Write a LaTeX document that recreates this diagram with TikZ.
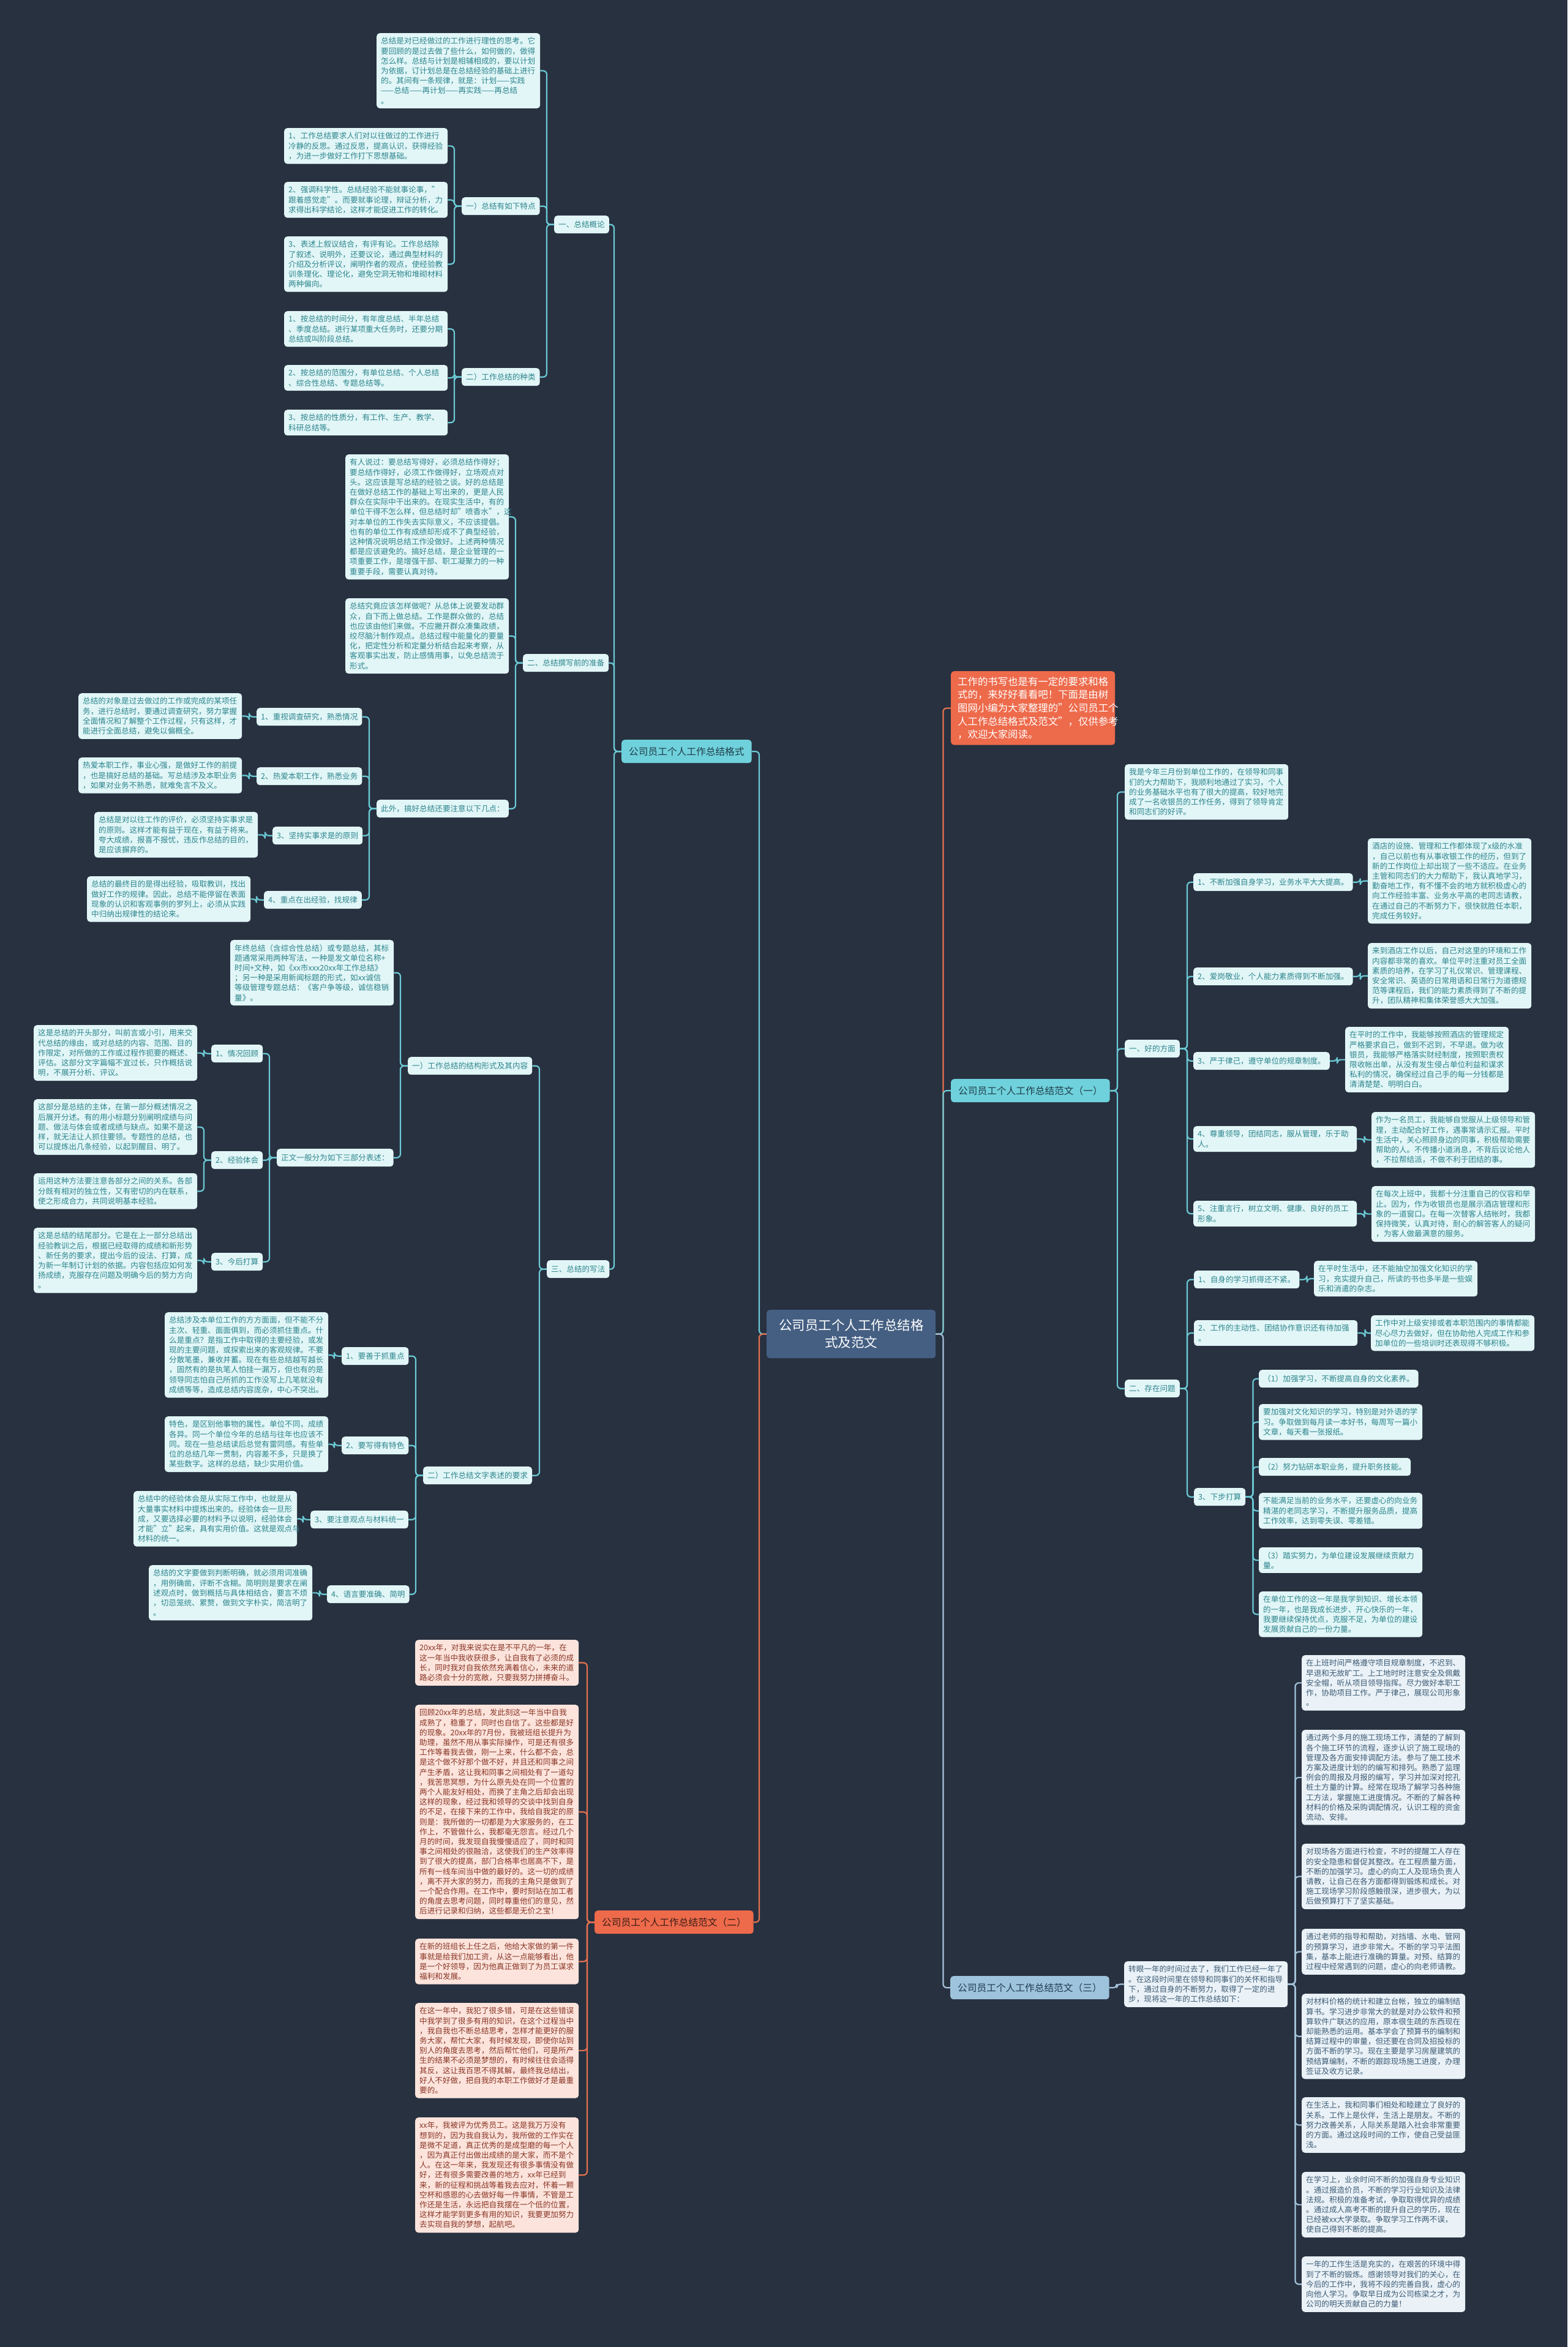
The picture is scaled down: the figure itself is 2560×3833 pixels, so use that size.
\documentclass[tikz,border=0pt]{standalone}
\usepackage{fontspec}
\setmainfont{Noto Sans CJK SC}
\usepackage{tikz}

\definecolor{bgc}{HTML}{283140}
\definecolor{tfill}{HTML}{E2F6F7}
\definecolor{ttext}{HTML}{2C858D}
\definecolor{tline}{HTML}{6BCBD6}
\definecolor{tbranch}{HTML}{6FD1DB}
\definecolor{tbtext}{HTML}{1F3D4A}
\definecolor{ofill}{HTML}{ED6A4B}
\definecolor{otext}{HTML}{3A1D16}
\definecolor{pfill}{HTML}{FCE4DC}
\definecolor{ptext}{HTML}{8A3526}
\definecolor{oline}{HTML}{E5714F}
\definecolor{bfill}{HTML}{EAF2F8}
\definecolor{btext}{HTML}{3E5B73}
\definecolor{bline}{HTML}{A5C3DA}
\definecolor{bbranch}{HTML}{9EC3DC}
\definecolor{bbtext}{HTML}{1F3A52}
\definecolor{cfill}{HTML}{445F82}

\tikzset{
  box/.style={rounded corners=5pt, anchor=north west, inner xsep=7pt, inner ysep=7pt,
    font=\fontsize{12.6}{16.2}\selectfont},
  leaf/.style={box, text width=253pt, align=left},
  tleaf/.style={leaf, fill=tfill, text=ttext},
  pleaf/.style={leaf, fill=pfill, text=ptext},
  bleaf/.style={leaf, fill=bfill, text=btext},
  tag/.style={box, fill=tfill, text=ttext, minimum height=29pt},
  branch/.style={box, inner xsep=12pt, minimum height=38pt, font=\fontsize{15.7}{20}\selectfont},
  hub/.style={box, fill=cfill, text=white, text width=236pt, align=center, inner xsep=20pt,
    minimum height=79pt, font=\fontsize{21.5}{28}\selectfont},
  lnT/.style={draw=tline, line width=2.2pt, rounded corners=6pt},
  lnO/.style={draw=oline, line width=2.2pt, rounded corners=6pt},
  lnB/.style={draw=bline, line width=2.2pt, rounded corners=6pt},
}

\begin{document}
\begin{tikzpicture}[x=1pt, y=-1pt]
\fill[bgc] (0,0) rectangle (2560,3833);
\useasboundingbox (0,0) rectangle (2560,3833);

% centre
\node[hub] (CT) at (1252,2139) {公司员工个人工作总结格\\式及范文};

% ---- left: 格式 ----
\node[branch, fill=tbranch, text=tbtext] (BR) at (1015,1208) {公司员工个人工作总结格式};

\node[tag] (L1) at (905,352) {一、总结概论};
\node[tleaf] (T0) at (615,54) {总结是对已经做过的工作进行理性的思考。它\\要回顾的是过去做了些什么，如何做的，做得\\怎么样。总结与计划是相辅相成的，要以计划\\为依据，订计划总是在总结经验的基础上进行\\的。其间有一条规律，就是：计划——实践\\——总结——再计划——再实践——再总结\\。};
\node[tag] (L11) at (754,322) {一）总结有如下特点};
\node[tleaf] (F1) at (464,209) {1、工作总结要求人们对以往做过的工作进行\\冷静的反思。通过反思，提高认识，获得经验\\，为进一步做好工作打下思想基础。};
\node[tleaf] (F2) at (464,297) {2、强调科学性。总结经验不能就事论事，"\\跟着感觉走"。而要就事论理，辩证分析，力\\求得出科学结论，这样才能促进工作的转化。};
\node[tleaf] (F3) at (464,386) {3、表述上叙议结合，有评有论。工作总结除\\了叙述、说明外，还要议论，通过典型材料的\\介绍及分析评议，阐明作者的观点，使经验教\\训条理化、理论化，避免空洞无物和堆砌材料\\两种偏向。};
\node[tag] (L12) at (754,601) {二）工作总结的种类};
\node[tleaf] (K1) at (464,508) {1、按总结的时间分，有年度总结、半年总结\\、季度总结。进行某项重大任务时，还要分期\\总结或叫阶段总结。};
\node[tleaf] (K2) at (464,596) {2、按总结的范围分，有单位总结、个人总结\\、综合性总结、专题总结等。};
\node[tleaf] (K3) at (464,669) {3、按总结的性质分，有工作、生产、教学、\\科研总结等。};

\node[tag] (L2) at (854,1068) {二、总结撰写前的准备};
\node[tleaf] (B1) at (564,742) {有人说过：要总结写得好，必须总结作得好；\\要总结作得好，必须工作做得好，立场观点对\\头。这应该是写总结的经验之谈。好的总结是\\在做好总结工作的基础上写出来的，更是人民\\群众在实际中干出来的。在现实生活中，有的\\单位干得不怎么样，但总结时却"喷香水"，这\\对本单位的工作失去实际意义，不应该提倡。\\也有的单位工作有成绩却形成不了典型经验，\\这种情况说明总结工作没做好。上述两种情况\\都是应该避免的。搞好总结，是企业管理的一\\项重要工作，是增强干部、职工凝聚力的一种\\重要手段，需要认真对待。};
\node[tleaf] (B2) at (564,977) {总结究竟应该怎样做呢？从总体上说要发动群\\众，自下而上做总结。工作是群众做的，总结\\也应该由他们来做。不应撇开群众凑集政绩，\\绞尽脑汁制作观点。总结过程中能量化的要量\\化，把定性分析和定量分析结合起来考察，从\\客观事实出发，防止感情用事，以免总结流于\\形式。};
\node[tag] (L21) at (615,1306) {此外，搞好总结还要注意以下几点：};
\node[tag] (P1) at (419,1156) {1、重视调查研究，熟悉情况};
\node[tleaf] (C1) at (128,1132) {总结的对象是过去做过的工作或完成的某项任\\务，进行总结时，要通过调查研究，努力掌握\\全面情况和了解整个工作过程，只有这样，才\\能进行全面总结，避免以偏概全。};
\node[tag] (P2) at (419,1253) {2、热爱本职工作，熟悉业务};
\node[tleaf] (C2) at (128,1237) {热爱本职工作，事业心强，是做好工作的前提\\，也是搞好总结的基础。写总结涉及本职业务\\，如果对业务不熟悉，就难免言不及义。};
\node[tag] (P3) at (445,1350) {3、坚持实事求是的原则};
\node[tleaf] (C3) at (154,1326) {总结是对以往工作的评价，必须坚持实事求是\\的原则。这样才能有益于现在，有益于将来。\\夸大成绩，报喜不报忧，违反作总结的目的，\\是应该摒弃的。};
\node[tag] (P4) at (431,1455) {4、重点在出经验，找规律};
\node[tleaf] (C4) at (142,1431) {总结的最终目的是得出经验，吸取教训，找出\\做好工作的规律。因此，总结不能停留在表面\\现象的认识和客观事例的罗列上，必须从实践\\中归纳出规律性的结论来。};

\node[tag] (L3) at (893,2058) {三、总结的写法};
\node[tag] (L31) at (666,1726) {一）工作总结的结构形式及其内容};
\node[tleaf] (D0) at (376,1535) {年终总结（含综合性总结）或专题总结，其标\\题通常采用两种写法，一种是发文单位名称+\\时间+文种，如《xx市xxx20xx年工作总结》\\；另一种是采用新闻标题的形式，如xx诚信\\等级管理专题总结：《客户争等级，诚信稳销\\量》。};
\node[tag] (L311) at (452,1876) {正文一般分为如下三部分表述：};
\node[tag] (Q1) at (345,1706) {1、情况回顾};
\node[tleaf] (D1) at (55,1674) {这是总结的开头部分，叫前言或小引，用来交\\代总结的缘由，或对总结的内容、范围、目的\\作限定，对所做的工作或过程作扼要的概述、\\评估。这部分文字篇幅不宜过长，只作概括说\\明，不展开分析、评议。};
\node[tag] (Q2) at (345,1880) {2、经验体会};
\node[tleaf] (D2a) at (55,1795) {这部分是总结的主体，在第一部分概述情况之\\后展开分述。有的用小标题分别阐明成绩与问\\题、做法与体会或者成绩与缺点。如果不是这\\样，就无法让人抓住要领。专题性的总结，也\\可以提炼出几条经验，以起到醒目、明了。};
\node[tleaf] (D2b) at (55,1916) {运用这种方法要注意各部分之间的关系。各部\\分既有相对的独立性，又有密切的内在联系，\\使之形成合力，共同说明基本经验。};
\node[tag] (Q3) at (345,2046) {3、今后打算};
\node[tleaf] (D3) at (55,2005) {这是总结的结尾部分。它是在上一部分总结出\\经验教训之后，根据已经取得的成绩和新形势\\、新任务的要求，提出今后的设法、打算，成\\为新一年制订计划的依据。内容包括应如何发\\扬成绩，克服存在问题及明确今后的努力方向\\。};
\node[tag] (L32) at (691,2395) {二）工作总结文字表述的要求};
\node[tag] (W1) at (558,2200) {1、要善于抓重点};
\node[tleaf] (E1) at (269,2143) {总结涉及本单位工作的方方面面，但不能不分\\主次、轻重、面面俱到，而必须抓住重点。什\\么是重点？是指工作中取得的主要经验，或发\\现的主要问题，或探索出来的客观规律。不要\\分散笔墨，兼收并蓄。现在有些总结越写越长\\，固然有的是执笔人怕挂一漏万，但也有的是\\领导同志怕自己所抓的工作没写上几笔就没有\\成绩等等，造成总结内容庞杂，中心不突出。};
\node[tag] (W2) at (558,2346) {2、要写得有特色};
\node[tleaf] (E2) at (269,2313) {特色，是区别他事物的属性。单位不同，成绩\\各异。同一个单位今年的总结与往年也应该不\\同。现在一些总结读后总觉有雷同感。有些单\\位的总结几年一贯制，内容差不多，只是换了\\某些数字。这样的总结，缺少实用价值。};
\node[tag] (W3) at (507,2467) {3、要注意观点与材料统一};
\node[tleaf] (E3) at (218,2435) {总结中的经验体会是从实际工作中，也就是从\\大量事实材料中提炼出来的。经验体会一旦形\\成，又要选择必要的材料予以说明，经验体会\\才能"立"起来，具有实用价值。这就是观点与\\材料的统一。};
\node[tag] (W4) at (534,2589) {4、语言要准确、简明};
\node[tleaf] (E4) at (243,2556) {总结的文字要做到判断明确，就必须用词准确\\，用例确凿，评断不含糊。简明则是要求在阐\\述观点时，做到概括与具体相结合，要言不烦\\，切忌笼统、累赘，做到文字朴实，简洁明了\\。};

% ---- left: 范文（二） ----
\node[branch, fill=ofill, text=otext] (BR2) at (971,3120) {公司员工个人工作总结范文（二）};
\node[pleaf] (O1) at (678,2678) {20xx年，对我来说实在是不平凡的一年，在\\这一年当中我收获很多，让自我有了必须的成\\长，同时我对自我依然充满着信心，未来的道\\路必须会十分的宽敞，只要我努力拼搏奋斗。};
\node[pleaf] (O2) at (678,2784) {回顾20xx年的总结，发此刻这一年当中自我\\成熟了，稳重了，同时也自信了。这些都是好\\的现象。20xx年的7月份，我被班组长提升为\\助理，虽然不用从事实际操作，可是还有很多\\工作等着我去做，刚一上来，什么都不会，总\\是这个做不好那个做不好，并且还和同事之间\\产生矛盾，这让我和同事之间相处有了一道勾\\，我苦思冥想，为什么原先处在同一个位置的\\两个人能友好相处，而换了主角之后却会出现\\这样的现象，经过我和领导的交谈中找到自身\\的不足，在接下来的工作中，我给自我定的原\\则是：我所做的一切都是为大家服务的，在工\\作上，不管做什么，我都毫无怨言。经过几个\\月的时间，我发现自我慢慢适应了，同时和同\\事之间相处的很融洽，这使我们的生产效率得\\到了很大的提高，部门合格率也居高不下，是\\所有一线车间当中做的最好的。这一切的成绩\\，离不开大家的努力，而我的主角只是做到了\\一个配合作用。在工作中，要时刻站在加工者\\的角度去思考问题，同时尊重他们的意见，然\\后进行记录和归纳，这些都是无价之宝！};
\node[pleaf] (O3) at (678,3166) {在新的班组长上任之后，他给大家做的第一件\\事就是给我们加工资，从这一点能够看出，他\\是一个好领导，因为他真正做到了为员工谋求\\福利和发展。};
\node[pleaf] (O4) at (678,3271) {在这一年中，我犯了很多错，可是在这些错误\\中我学到了很多有用的知识，在这个过程当中\\，我自我也不断总结思考，怎样才能更好的服\\务大家，帮忙大家，有时候发现，即使你站到\\别人的角度去思考，然后帮忙他们，可是所产\\生的结果不必须是梦想的，有时候往往会适得\\其反，这让我百思不得其解，最终我总结出，\\好人不好做，把自我的本职工作做好才是最重\\要的。};
\node[pleaf] (O5) at (678,3458) {xx年，我被评为优秀员工。这是我万万没有\\想到的，因为我自我认为，我所做的工作实在\\是微不足道，真正优秀的是成型磨的每一个人\\，因为真正付出做出成绩的是大家，而不是个\\人。在这一年来，我发现还有很多事情没有做\\好，还有很多需要改善的地方，xx年已经到\\来，新的征程和挑战等着我去应对，怀着一颗\\空杯和感恩的心去做好每一件事情，不管是工\\作还是生活，永远把自我摆在一个低的位置，\\这样才能学到更多有用的知识，我要更加努力\\去实现自我的梦想，起航吧。};

% ---- right: intro ----
\node[box, fill=ofill, text=white, text width=246pt, align=left, inner xsep=11pt, inner ysep=9pt,
  font=\fontsize{16.4}{21.7}\selectfont] (IN) at (1553,1096) {工作的书写也是有一定的要求和格\\式的，来好好看看吧！下面是由树\\图网小编为大家整理的"公司员工个\\人工作总结格式及范文"，仅供参考\\，欢迎大家阅读。};

% ---- right: 范文（一） ----
\node[branch, fill=tbranch, text=tbtext] (BR1) at (1553,1762) {公司员工个人工作总结范文（一）};
\node[tleaf] (R1a) at (1837,1248) {我是今年三月份到单位工作的，在领导和同事\\们的大力帮助下，我顺利地通过了实习，个人\\的业务基础水平也有了很大的提高，较好地完\\成了一名收银员的工作任务，得到了领导肯定\\和同志们的好评。};
\node[tag] (G1) at (1837,1698) {一、好的方面};
\node[tag] (G11) at (1949,1426) {1、不断加强自身学习，业务水平大大提高。};
\node[tleaf] (G11t) at (2234,1369) {酒店的设施、管理和工作都体现了x级的水准\\，自己以前也有从事收银工作的经历，但到了\\新的工作岗位上却出现了一些不适应。在业务\\主管和同志们的大力帮助下，我认真地学习，\\勤奋地工作，有不懂不会的地方就积极虚心的\\向工作经验丰富、业务水平高的老同志请教，\\在通过自己的不断努力下，很快就胜任本职，\\完成任务较好。};
\node[tag] (G12) at (1949,1580) {2、爱岗敬业，个人能力素质得到不断加强。};
\node[tleaf] (G12t) at (2234,1540) {来到酒店工作以后，自己对这里的环境和工作\\内容都非常的喜欢。单位平时注重对员工全面\\素质的培养，在学习了礼仪常识、管理课程、\\安全常识、英语的日常用语和日常行为道德规\\范等课程后，我们的能力素质得到了不断的提\\升，团队精神和集体荣誉感大大加强。};
\node[tag] (G13) at (1949,1718) {3、严于律己，遵守单位的规章制度。};
\node[tleaf] (G13t) at (2197,1677) {在平时的工作中，我能够按照酒店的管理规定\\严格要求自己，做到不迟到，不早退。做为收\\银员，我能够严格落实财经制度，按照职责权\\限收帐出单，从没有发生侵占单位利益和谋求\\私利的情况，确保经过自己手的每一分钱都是\\清清楚楚、明明白白。};
\node[tleaf] (G14) at (1949,1839) {4、尊重领导，团结同志，服从管理，乐于助\\人。};
\node[tleaf] (G14t) at (2240,1816) {作为一名员工，我能够自觉服从上级领导和管\\理，主动配合好工作，遇事常请示汇报。平时\\生活中，关心照顾身边的同事，积极帮助需要\\帮助的人。不传播小道消息，不背后议论他人\\，不拉帮结派，不做不利于团结的事。};
\node[tleaf] (G15) at (1949,1961) {5、注重言行，树立文明、健康、良好的员工\\形象。};
\node[tleaf] (G15t) at (2240,1937) {在每次上班中，我都十分注重自己的仪容和举\\止。因为，作为收银员也是展示酒店管理和形\\象的一道窗口。在每一次替客人结帐时，我都\\保持微笑，认真对待，耐心的解答客人的疑问\\，为客人做最满意的服务。};
\node[tag] (G2) at (1837,2253) {二、存在问题};
\node[tag] (H1) at (1950,2075) {1、自身的学习抓得还不紧。};
\node[tleaf] (H1t) at (2146,2059) {在平时生活中，还不能抽空加强文化知识的学\\习，充实提升自己，所读的书也多半是一些娱\\乐和消遣的杂志。};
\node[tleaf] (H2) at (1950,2156) {2、工作的主动性、团结协作意识还有待加强\\。};
\node[tleaf] (H2t) at (2239,2148) {工作中对上级安排或者本职范围内的事情都能\\尽心尽力去做好，但在协助他人完成工作和参\\加单位的一些培训时还表现得不够积极。};
\node[tag] (H3) at (1950,2430) {3、下步打算};
\node[tag] (J1) at (2056,2237) {（1）加强学习，不断提高自身的文化素养。};
\node[tleaf] (J2) at (2056,2293) {要加强对文化知识的学习，特别是对外语的学\\习。争取做到每月读一本好书，每周写一篇小\\文章，每天看一张报纸。};
\node[tag] (J3) at (2056,2381) {（2）努力钻研本职业务，提升职务技能。};
\node[tleaf] (J4) at (2056,2438) {不能满足当前的业务水平，还要虚心的向业务\\精湛的老同志学习，不断提升服务品质，提高\\工作效率，达到零失误、零差错。};
\node[tleaf] (J5) at (2056,2527) {（3）踏实努力，为单位建设发展继续贡献力\\量。};
\node[tleaf] (J6) at (2056,2599) {在单位工作的这一年是我学到知识、增长本领\\的一年，也是我成长进步、开心快乐的一年，\\我要继续保持优点，克服不足，为单位的建设\\发展贡献自己的一份力量。};

% ---- right: 范文（三） ----
\node[branch, fill=bbranch, text=bbtext] (BR3) at (1552,3227) {公司员工个人工作总结范文（三）};
\node[bleaf] (Z0) at (1836,3203) {转眼一年的时间过去了，我们工作已经一年了\\。在这段时间里在领导和同事们的关怀和指导\\下，通过自身的不断努力，取得了一定的进\\步，现将这一年的工作总结如下：};
\node[bleaf] (S1) at (2126,2703) {在上班时间严格遵守项目规章制度，不迟到、\\早退和无故旷工。上工地时时注意安全及佩戴\\安全帽，听从项目领导指挥。尽力做好本职工\\作，协助项目工作。严于律己，展现公司形象\\。};
\node[bleaf] (S2) at (2126,2825) {通过两个多月的施工现场工作，清楚的了解到\\各个施工环节的流程，逐步认识了施工现场的\\管理及各方面安排调配方法。参与了施工技术\\方案及进度计划的的编写和排列。熟悉了监理\\例会的周报及月报的编写，学习并加深对挖孔\\桩土方量的计算。经常在现场了解学习各种施\\工方法，掌握施工进度情况。不断的了解各种\\材料的价格及采购调配情况，认识工程的资金\\流动、安排。};
\node[bleaf] (S3) at (2126,3011) {对现场各方面进行检查，不时的提醒工人存在\\的安全隐患和督促其整改。在工程质量方面，\\不断的加强学习。虚心的向工人及现场负责人\\请教，让自己在各方面都得到锻炼和成长。对\\施工现场学习阶段感触很深，进步很大，为以\\后做预算打下了坚实基础。};
\node[bleaf] (S4) at (2126,3150) {通过老师的指导和帮助，对挡墙、水电、管网\\的预算学习，进步非常大。不断的学习平法图\\集，基本上能进行准确的算量。对预、结算的\\过程中经常遇到的问题，虚心的向老师请教。};
\node[bleaf] (S5) at (2126,3256) {对材料价格的统计和建立台帐，独立的编制结\\算书。学习进步非常大的就是对办公软件和预\\算软件广联达的应用，原本很生疏的东西现在\\却能熟悉的运用。基本学会了预算书的编制和\\结算过程中的审量，但还要在合同及招投标的\\方面不断的学习。现在主要是学习房屋建筑的\\预结算编制，不断的跟踪现场施工进度，办理\\签证及收方记录。};
\node[bleaf] (S6) at (2126,3425) {在生活上，我和同事们相处和睦建立了良好的\\关系。工作上是伙伴，生活上是朋友。不断的\\努力改善关系，人际关系是踏入社会非常重要\\的方面。通过这段时间的工作，使自己受益匪\\浅。};
\node[bleaf] (S7) at (2126,3547) {在学习上，业余时间不断的加强自身专业知识\\。通过报造价员，不断的学习行业知识及法律\\法规。积极的准备考试，争取取得优异的成绩\\。通过成人高考不断的提升自己的学历，现在\\已经被xx大学录取。争取学习工作两不误，\\使自己得到不断的提高。};
\node[bleaf] (S8) at (2126,3685) {一年的工作生活是充实的，在艰苦的环境中得\\到了不断的锻炼。感谢领导对我们的关心，在\\今后的工作中，我将不段的完善自我，虚心的\\向他人学习。争取早日成为公司栋梁之才，为\\公司的明天贡献自己的力量！};

% connectors, left side
\draw[lnT] (CT.west) -- ++(-12,0) |- (BR.east);
\draw[lnO] (CT.west) -- ++(-12,0) |- (BR2.east);
\foreach \ch in {L1,L2,L3} \draw[lnT] (BR.west) -- ++(-12,0) |- (\ch.east);
\foreach \ch in {T0,L11,L12} \draw[lnT] (L1.west) -- ++(-12,0) |- (\ch.east);
\foreach \ch in {F1,F2,F3} \draw[lnT] (L11.west) -- ++(-12,0) |- (\ch.east);
\foreach \ch in {K1,K2,K3} \draw[lnT] (L12.west) -- ++(-12,0) |- (\ch.east);
\foreach \ch in {B1,B2,L21} \draw[lnT] (L2.west) -- ++(-12,0) |- (\ch.east);
\foreach \ch in {P1,P2,P3,P4} \draw[lnT] (L21.west) -- ++(-12,0) |- (\ch.east);
\foreach \pa/\ch in {P1/C1,P2/C2,P3/C3,P4/C4} \draw[lnT] (\pa.west) -- ++(-12,0) |- (\ch.east);
\foreach \ch in {L31,L32} \draw[lnT] (L3.west) -- ++(-12,0) |- (\ch.east);
\foreach \ch in {D0,L311} \draw[lnT] (L31.west) -- ++(-12,0) |- (\ch.east);
\foreach \ch in {Q1,Q2,Q3} \draw[lnT] (L311.west) -- ++(-12,0) |- (\ch.east);
\foreach \pa/\ch in {Q1/D1,Q2/D2a,Q2/D2b,Q3/D3} \draw[lnT] (\pa.west) -- ++(-12,0) |- (\ch.east);
\foreach \ch in {W1,W2,W3,W4} \draw[lnT] (L32.west) -- ++(-12,0) |- (\ch.east);
\foreach \pa/\ch in {W1/E1,W2/E2,W3/E3,W4/E4} \draw[lnT] (\pa.west) -- ++(-12,0) |- (\ch.east);
\foreach \ch in {O1,O2,O3,O4,O5} \draw[lnO] (BR2.west) -- ++(-12,0) |- (\ch.east);

% connectors, right side
\draw[lnO] (CT.east) -- ++(12,0) |- (IN.west);
\draw[lnT] (CT.east) -- ++(12,0) |- (BR1.west);
\draw[lnB] (CT.east) -- ++(12,0) |- (BR3.west);
\foreach \ch in {R1a,G1,G2} \draw[lnT] (BR1.east) -- ++(12,0) |- (\ch.west);
\foreach \ch in {G11,G12,G13,G14,G15} \draw[lnT] (G1.east) -- ++(12,0) |- (\ch.west);
\foreach \pa/\ch in {G11/G11t,G12/G12t,G13/G13t,G14/G14t,G15/G15t} \draw[lnT] (\pa.east) -- ++(12,0) |- (\ch.west);
\foreach \ch in {H1,H2,H3} \draw[lnT] (G2.east) -- ++(12,0) |- (\ch.west);
\foreach \pa/\ch in {H1/H1t,H2/H2t} \draw[lnT] (\pa.east) -- ++(12,0) |- (\ch.west);
\foreach \ch in {J1,J2,J3,J4,J5,J6} \draw[lnT] (H3.east) -- ++(12,0) |- (\ch.west);
\draw[lnB] (BR3.east) -- ++(12,0) |- (Z0.west);
\foreach \ch in {S1,S2,S3,S4,S5,S6,S7,S8} \draw[lnB] (Z0.east) -- ++(12,0) |- (\ch.west);
\end{tikzpicture}
\end{document}
